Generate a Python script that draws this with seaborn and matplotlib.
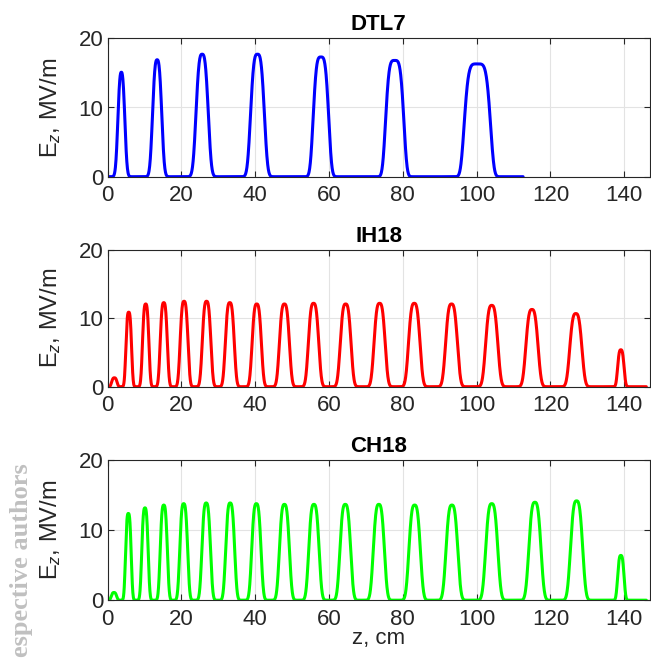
import numpy as np
import pandas as pd
import matplotlib
matplotlib.use("Agg")
import matplotlib.pyplot as plt
import seaborn as sns

# ---------------- data ----------------
dtl_centers = [3.7, 13.4, 25.6, 40.6, 57.8, 77.8, 100.2]
dtl_heights = [15.1, 16.9, 17.7, 17.7, 17.3, 16.8, 16.3]
dtl_widths = [2.0, 2.6, 3.4, 3.8, 4.2, 4.9, 7.0]
dtl_shape = [2.6, 2.8, 3.0, 3.2, 3.6, 4.0, 4.8]
dtl_end = 112.6

ih_centers = [1.8, 5.7, 10.3, 15.2, 20.7, 26.8, 33.1, 40.4, 47.9, 55.8,
              64.5, 73.7, 83.1, 93.2, 104.1, 115.0, 126.9, 139.1]
ih_heights = [1.3, 10.9, 12.1, 12.3, 12.5, 12.5, 12.3, 12.1, 12.1, 12.2,
              12.1, 12.2, 12.2, 12.1, 11.9, 11.3, 10.7, 5.4]
ih_widths = [1.5, 1.6, 1.8, 2.0, 2.2, 2.4, 2.5, 2.6, 2.8, 2.9,
             3.0, 3.1, 3.2, 3.3, 3.4, 3.4, 3.4, 1.8]

ch_centers = [1.7, 5.6, 10.1, 15.2, 20.6, 26.7, 33.2, 40.3, 47.9, 55.9,
              64.4, 73.5, 83.2, 93.3, 104.1, 115.8, 127.1, 139.1]
ch_heights = [1.1, 12.4, 13.2, 13.6, 13.8, 13.9, 13.9, 13.8, 13.7, 13.7,
              13.7, 13.7, 13.6, 13.6, 13.8, 14.0, 14.2, 6.4]
ch_widths = [1.5, 1.6, 1.8, 2.0, 2.2, 2.4, 2.5, 2.6, 2.8, 2.9,
             3.0, 3.1, 3.2, 3.3, 3.4, 3.4, 3.4, 1.8]
chain_end = 146.0

titles = ["DTL7", "IH18", "CH18"]
colors = ["#0000ff", "#ff0000", "#00ff00"]
x_ticks = [0, 20, 40, 60, 80, 100, 120, 140]
y_ticks = [0, 10, 20]


def field(z, centers, heights, widths, shapes):
    e = np.zeros_like(z)
    for c, a, w, p in zip(centers, heights, widths, shapes):
        e += a * np.exp(-np.log(2) * np.abs(2 * (z - c) / w) ** p)
    return e


z1 = np.linspace(0, dtl_end, 2000)
z2 = np.linspace(0, chain_end, 3000)
frames = [
    pd.DataFrame({"z": z1, "Ez": field(z1, dtl_centers, dtl_heights, dtl_widths, dtl_shape)}),
    pd.DataFrame({"z": z2, "Ez": field(z2, ih_centers, ih_heights, ih_widths, [3.0] * len(ih_centers))}),
    pd.DataFrame({"z": z2, "Ez": field(z2, ch_centers, ch_heights, ch_widths, [3.0] * len(ch_centers))}),
]

# ---------------- style ----------------
sns.set_style("white")
plt.rcParams["font.family"] = ["Liberation Sans", "DejaVu Sans"]
plt.rcParams["mathtext.fontset"] = "custom"
plt.rcParams["mathtext.rm"] = "Liberation Sans"
plt.rcParams["mathtext.it"] = "Liberation Sans:italic"

fig = plt.figure(figsize=(6.51, 6.59), dpi=100)
W, H = 651, 659
left, right = 107.7, 650.0
tops = [38.3, 250.0, 460.3]
bottoms = [176.7, 386.7, 600.2]

axc = "#262626"
fs = 16
for i in range(3):
    ax = fig.add_axes([left / W, 1 - bottoms[i] / H, (right - left) / W, (bottoms[i] - tops[i]) / H])
    sns.lineplot(data=frames[i], x="z", y="Ez", ax=ax, color=colors[i], linewidth=2.2, estimator=None)
    ax.set_xlim(0, 147)
    ax.set_ylim(0, 20)
    ax.set_xticks(x_ticks)
    ax.set_yticks(y_ticks)
    ax.grid(True, color="#e3e3e3", linewidth=0.8)
    ax.set_axisbelow(True)
    for s in ax.spines.values():
        s.set_color(axc)
        s.set_linewidth(0.8)
    ax.tick_params(direction="in", length=4, width=0.8, color=axc, labelcolor=axc,
                   labelsize=fs, top=True, right=True, bottom=True, left=True)
    ax.tick_params(axis="x", pad=6)
    ax.tick_params(axis="y", pad=3)
    ax.set_title(titles[i], fontsize=fs, fontweight="bold", color="black", pad=6)
    ax.set_ylabel("E$_{z}$, MV/m", fontsize=17, color=axc, labelpad=11)
    if i == 2:
        ax.set_xlabel("z, cm", fontsize=fs, color=axc, labelpad=-1)
    else:
        ax.set_xlabel("")

fig.text(22 / W, 1 - 657 / H, "espective authors", rotation=90, ha="center", va="bottom",
         fontsize=19, fontweight="bold", color="#c0c0c0", family=["Liberation Serif", "DejaVu Serif"])

fig.savefig("out.png", dpi=100)
